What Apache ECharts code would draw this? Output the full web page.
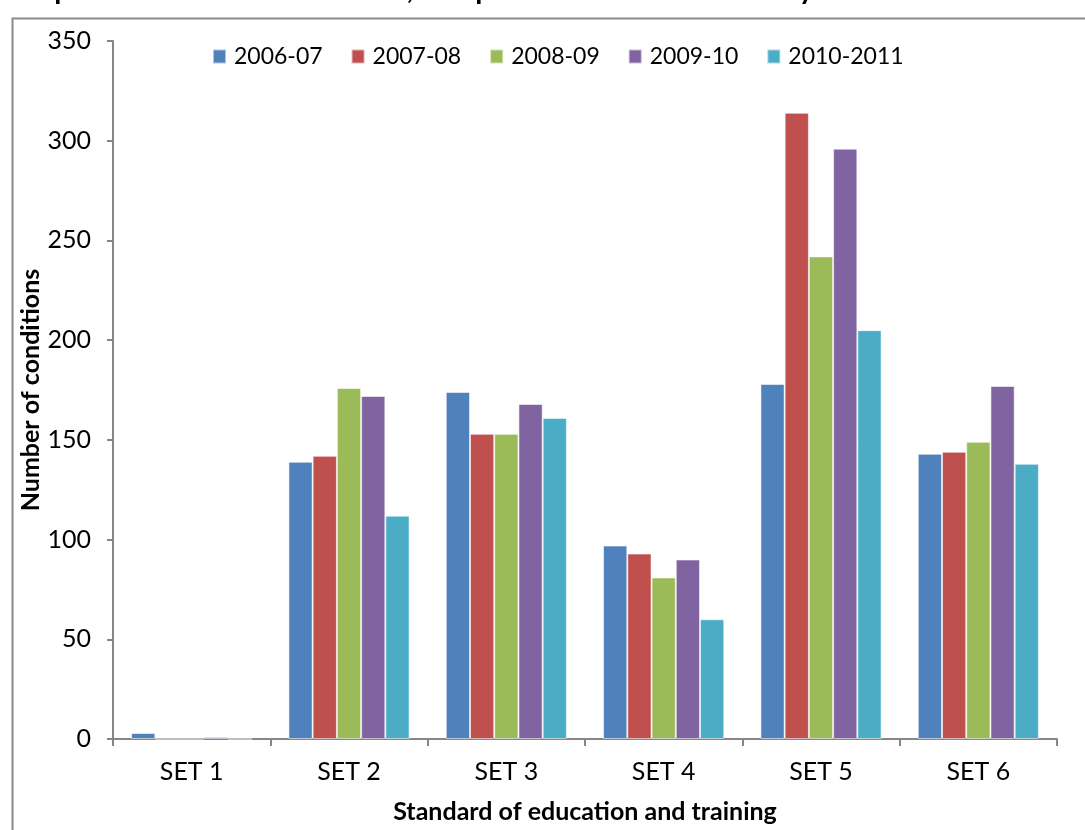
<!DOCTYPE html>
<html>
<head>
<meta charset="utf-8">
<script src="https://cdn.jsdelivr.net/npm/echarts@6/dist/echarts.min.js"></script>
<style>
  html, body { margin: 0; padding: 0; background: #fff; }
  #chart { width: 1085px; height: 830px; }
</style>
</head>
<body>
<div id="chart"></div>
<script>
// values
const categories = ['SET 1', 'SET 2', 'SET 3', 'SET 4', 'SET 5', 'SET 6'];
const years = ['2006-07', '2007-08', '2008-09', '2009-10', '2010-2011'];
const values0607 = [3, 139, 174, 97, 178, 143];
const values0708 = [0, 142, 153, 93, 314, 144];
const values0809 = [0, 176, 153, 81, 242, 149];
const values0910 = [1, 172, 168, 90, 296, 177];
const values1011 = [0, 112, 161, 60, 205, 138];
const colors = ['#4F81BD', '#C0504D', '#9BBB59', '#8064A2', '#4BACC6'];

const font = 'Lato, "Open Sans", sans-serif';
const axisGrey = '#868686';

const chart = echarts.init(document.getElementById('chart'));

const seriesData = [values0607, values0708, values0809, values0910, values1011];
const series = years.map((name, idx) => ({
  name,
  type: 'bar',
  data: seriesData[idx],
  barGap: '0%',
  barCategoryGap: '23%',
  itemStyle: {
    color: colors[idx],
    borderColor: 'rgba(255,255,255,0.55)',
    borderWidth: 1,
  },
}));

const option = {
  animation: false,
  backgroundColor: '#fff',
  textStyle: { fontFamily: font },
  graphic: [
    {
      type: 'rect',
      left: 10,
      top: 16,
      shape: { width: 1200, height: 1000 },
      style: { fill: 'none', stroke: '#8a8a8a', lineWidth: 2 },
      z: -1,
    },
    {
      // chart title, mostly cut off by the top edge in the reference
      type: 'text',
      left: 8,
      top: -25,
      style: {
        text: 'Graph 4: Number of conditions, comparison over the last five years',
        font: 'bold 29px ' + font,
        fill: '#000',
      },
    },
  ],
  legend: {
    data: years,
    left: 207,
    top: 40,
    itemWidth: 13,
    itemHeight: 14,
    itemGap: 28,
    icon: 'rect',
    textStyle: { fontSize: 23, color: '#000', fontFamily: font, padding: [0, 0, 0, 3] },
  },
  grid: {
    left: 113,
    right: 28,
    top: 41,
    bottom: 91,
    containLabel: false,
  },
  xAxis: {
    type: 'category',
    data: categories,
    name: 'Standard of education and training',
    nameLocation: 'middle',
    nameGap: 60,
    nameMoveOverlap: false,
    nameTextStyle: { fontSize: 25, fontWeight: 'bold', color: '#000', fontFamily: font },
    axisLine: { lineStyle: { color: axisGrey, width: 2 } },
    axisTick: { show: true, length: 7, lineStyle: { color: axisGrey, width: 2 } },
    axisLabel: { fontSize: 25, color: '#000', margin: 20, fontFamily: font },
  },
  yAxis: {
    type: 'value',
    min: 0,
    max: 350,
    interval: 50,
    name: 'Number of conditions',
    nameLocation: 'middle',
    nameGap: 70,
    nameMoveOverlap: false,
    nameRotate: 90,
    nameTextStyle: { fontSize: 25, fontWeight: 'bold', color: '#000', fontFamily: font },
    axisLine: { show: true, lineStyle: { color: axisGrey, width: 2 } },
    axisTick: { show: true, length: 6, lineStyle: { color: axisGrey, width: 2 } },
    axisLabel: { fontSize: 25, color: '#000', margin: 22, fontFamily: font },
    splitLine: { show: false },
  },
  series,
};

chart.setOption(option);
</script>
</body>
</html>
